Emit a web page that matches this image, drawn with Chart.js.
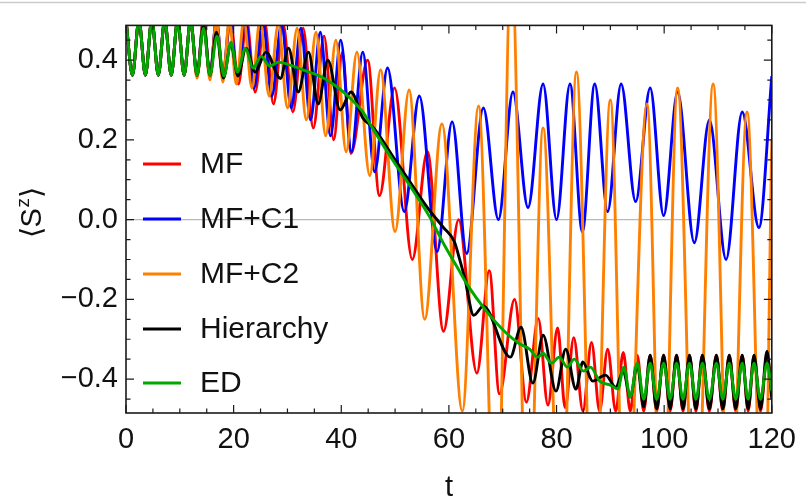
<!DOCTYPE html>
<html>
<head>
<meta charset="utf-8">
<script src="https://cdn.jsdelivr.net/npm/chart.js@4.4.1/dist/chart.umd.min.js"></script>
<style>
  html, body { margin: 0; padding: 0; background: #fff; }
  canvas { display: block; }
</style>
</head>
<body>
<canvas id="szChart" width="806" height="500"></canvas>
<script>
// values: [t, <S^z>] at the turning points of each curve
var earlyPoints = [[0,0.5],[1.2,0.362],[2.4,0.5],[3.6,0.362],[4.8,0.5],[6.0,0.362],[7.2,0.5],[8.4,0.362],[9.6,0.5],[10.8,0.362],[12.0,0.5]];

var mfPoints = [[13.2,0.36],[14.4,0.5],[15.6,0.36],[16.8,0.5],[18.0,0.36],[19.4,0.5],[20.9,0.34],[22.4,0.5],[24.0,0.32],[25.7,0.5],[27.4,0.29],[29.2,0.49],[31.0,0.27],[32.9,0.48],[34.8,0.23],[36.8,0.46],[38.6,0.2],[40.2,0.42],[41.8,0.166],[44.9,0.40],[47.1,0.06],[49.9,0.33],[53.2,-0.1],[56.0,0.17],[59.0,-0.28],[61.8,0.0],[65.2,-0.385],[67.5,-0.128],[69.4,-0.437],[72.2,-0.2],[74.4,-0.458],[76.6,-0.248],[78.4,-0.465],[80.2,-0.272],[81.6,-0.472],[83.2,-0.296],[84.9,-0.48],[86.5,-0.308],[88.0,-0.48],[89.5,-0.325],[91.0,-0.48],[92.4,-0.333],[93.7,-0.48],[95.0,-0.34],[96.2,-0.48],[97.4,-0.34],[98.6,-0.48],[99.9,-0.34],[101.1,-0.48],[102.3,-0.34],[103.5,-0.48],[104.7,-0.34],[105.9,-0.48],[107.1,-0.34],[108.4,-0.48],[109.7,-0.34],[110.9,-0.48],[112.1,-0.34],[113.3,-0.48],[114.5,-0.34],[115.6,-0.48],[116.7,-0.34],[117.9,-0.48],[119.1,-0.34],[120,-0.44]];

var mfC1Points = [[13.2,0.36],[14.4,0.5],[15.6,0.36],[16.8,0.5],[18.0,0.36],[19.3,0.5],[20.7,0.35],[22.2,0.5],[23.8,0.33],[25.4,0.5],[27.1,0.31],[28.9,0.49],[30.7,0.28],[32.5,0.48],[34.3,0.25],[36.1,0.47],[38.0,0.21],[39.9,0.45],[41.9,0.17],[44.0,0.42],[46.2,0.12],[48.6,0.38],[51.7,0.02],[54.5,0.31],[57.8,-0.08],[60.6,0.245],[63.3,-0.085],[66.4,0.28],[69.2,0.0],[71.9,0.32],[74.7,0.03],[77.5,0.34],[80.0,0.0],[82.5,0.34],[84.8,-0.03],[87.1,0.34],[89.5,0.02],[92.0,0.34],[94.7,0.045],[97.4,0.33],[99.9,0.01],[102.5,0.32],[105.6,-0.058],[108.4,0.25],[111.5,-0.1],[114.5,0.27],[117.6,-0.02],[120,0.36]];

var mfC2Points = [[13.2,0.355],[14.4,0.5],[15.6,0.35],[16.8,0.5],[18.0,0.345],[19.2,0.5],[20.5,0.34],[21.9,0.5],[23.4,0.33],[24.9,0.5],[26.6,0.31],[28.3,0.49],[30.0,0.28],[31.8,0.48],[33.5,0.25],[35.3,0.47],[37.1,0.21],[39.0,0.45],[40.9,0.17],[42.9,0.42],[45.3,0.11],[47.3,0.375],[50.0,-0.03],[52.6,0.325],[55.5,-0.25],[58.7,0.24],[62.5,-0.48],[65.5,0.285],[68.8,-0.9],[71.6,0.65],[74.7,-0.9],[77.5,0.23],[80.8,-0.9],[83.7,0.37],[86.9,-0.9],[90.0,0.30],[92.8,-0.9],[96.8,0.29],[99.6,-0.9],[102.5,0.33],[105.8,-0.9],[109.1,0.34],[112.2,-0.9],[115.4,0.27],[118.5,-0.9],[120,0.2]];

var hierPoints = [[13.2,0.362],[14.4,0.49],[15.6,0.362],[16.8,0.47],[18.1,0.355],[19.5,0.44],[20.8,0.36],[22.3,0.43],[24.0,0.37],[26.0,0.42],[28.7,0.354],[30.2,0.43],[32.0,0.32],[33.9,0.42],[35.7,0.29],[37.5,0.40],[39.8,0.275],[41.8,0.32],[44.0,0.255],[46.0,0.23],[50.0,0.15],[53.0,0.09],[56.0,0.03],[59.0,-0.02],[61.0,-0.055],[62.0,-0.1],[63.0,-0.15],[64.6,-0.24],[66.4,-0.217],[71.4,-0.345],[73.4,-0.27],[75.6,-0.41],[77.5,-0.29],[79.9,-0.43],[81.7,-0.325],[83.6,-0.425],[84.9,-0.357],[86.7,-0.405],[89.1,-0.39],[91.0,-0.42],[92.4,-0.38],[93.7,-0.445],[95.0,-0.365],[96.2,-0.47],[97.4,-0.34],[98.6,-0.475],[99.9,-0.34],[101.1,-0.475],[102.3,-0.34],[103.5,-0.475],[104.7,-0.34],[105.9,-0.475],[107.1,-0.34],[108.4,-0.475],[109.7,-0.34],[110.9,-0.475],[112.1,-0.34],[113.3,-0.475],[114.5,-0.34],[115.6,-0.475],[116.7,-0.34],[117.9,-0.475],[119.1,-0.33],[120,-0.45]];

var edPoints = [[13.2,0.362],[14.4,0.48],[15.6,0.362],[16.9,0.46],[18.2,0.36],[19.5,0.445],[20.7,0.37],[22.2,0.43],[23.6,0.38],[25.1,0.41],[26.7,0.385],[28.3,0.395],[30.0,0.39],[33.0,0.375],[36.0,0.36],[39.0,0.335],[42.0,0.3],[44.0,0.27],[46.0,0.225],[50.0,0.14],[53.0,0.08],[56.5,0.005],[59.0,-0.06],[62.0,-0.13],[63.5,-0.165],[67.0,-0.23],[70.7,-0.285],[73.0,-0.31],[75.0,-0.325],[76.5,-0.345],[77.5,-0.335],[79.0,-0.36],[80.5,-0.345],[82.0,-0.37],[83.3,-0.35],[85.0,-0.38],[86.3,-0.37],[88.0,-0.405],[90.0,-0.415],[91.4,-0.425],[92.5,-0.37],[93.7,-0.445],[95.0,-0.36],[96.2,-0.45],[97.4,-0.36],[98.6,-0.45],[99.9,-0.36],[101.1,-0.45],[102.3,-0.36],[103.5,-0.45],[104.7,-0.36],[105.9,-0.45],[107.1,-0.36],[108.4,-0.45],[109.7,-0.36],[110.9,-0.45],[112.1,-0.36],[113.3,-0.45],[114.5,-0.36],[115.6,-0.45],[116.7,-0.36],[117.9,-0.45],[119.1,-0.36],[120,-0.43]];

var seriesNames = ['MF', 'MF+C1', 'MF+C2', 'Hierarchy', 'ED'];
var seriesColors = ['#ff0000', '#0000ff', '#ff8000', '#000000', '#00a800'];
var xTickValues = [0, 20, 40, 60, 80, 100, 120];
var yTickValues = [-0.4, -0.2, 0.0, 0.2, 0.4];

var FONT = "'Liberation Sans', Arial, sans-serif";

function toXY(pts) {
  return earlyPoints.concat(pts).map(function (p) { return { x: p[0], y: p[1] }; });
}

var allPoints = [mfPoints, mfC1Points, mfC2Points, hierPoints, edPoints];
var datasets = allPoints.map(function (pts, i) {
  return {
    label: seriesNames[i],
    data: toXY(pts),
    borderColor: seriesColors[i],
    backgroundColor: seriesColors[i],
    borderWidth: 2.9,
    pointRadius: 0,
    cubicInterpolationMode: 'monotone',
    clip: 0,
    order: seriesNames.length - i
  };
});

var framePlugin = {
  id: 'frame',
  beforeDatasetsDraw: function (chart) {
    var ctx = chart.ctx, a = chart.chartArea;
    var y0 = chart.scales.y.getPixelForValue(0);
    ctx.save();
    ctx.strokeStyle = '#b4bcbc';
    ctx.lineWidth = 1.2;
    ctx.beginPath();
    ctx.moveTo(a.left, y0);
    ctx.lineTo(a.right, y0);
    ctx.stroke();
    ctx.restore();
  },
  afterDatasetsDraw: function (chart) {
    var ctx = chart.ctx, a = chart.chartArea;
    var xs = chart.scales.x, ys = chart.scales.y;
    ctx.save();
    // thin grey line along the top of the picture
    ctx.strokeStyle = '#cccccc';
    ctx.lineWidth = 1.5;
    ctx.beginPath();
    ctx.moveTo(0, 2.5);
    ctx.lineTo(chart.width, 2.5);
    ctx.stroke();

    ctx.strokeStyle = '#1a1a1a';
    ctx.lineWidth = 1.6;
    ctx.strokeRect(a.left, a.top, a.right - a.left, a.bottom - a.top);

    ctx.lineWidth = 1.2;
    ctx.beginPath();
    var v, px, len;
    for (v = 0; v <= 120; v += 5) {
      px = xs.getPixelForValue(v);
      len = (v % 20 === 0) ? 8 : 4.5;
      ctx.moveTo(px, a.bottom); ctx.lineTo(px, a.bottom - len);
      ctx.moveTo(px, a.top); ctx.lineTo(px, a.top + len);
    }
    for (var k = -9; k <= 9; k++) {
      v = k * 0.05;
      px = ys.getPixelForValue(v);
      if (px < a.top || px > a.bottom) continue;
      len = (k % 4 === 0) ? 8 : 4.5;
      ctx.moveTo(a.left, px); ctx.lineTo(a.left + len, px);
      ctx.moveTo(a.right, px); ctx.lineTo(a.right - len, px);
    }
    ctx.stroke();
    ctx.restore();
  },
  afterDraw: function (chart) {
    var ctx = chart.ctx, a = chart.chartArea;
    ctx.save();
    // legend inside the plot
    ctx.font = '30px ' + FONT;
    ctx.textBaseline = 'middle';
    ctx.textAlign = 'left';
    var legendY = [164, 219, 274, 329, 383];
    seriesNames.forEach(function (name, i) {
      ctx.strokeStyle = seriesColors[i];
      ctx.lineWidth = 3;
      ctx.beginPath();
      ctx.moveTo(143, legendY[i]);
      ctx.lineTo(181, legendY[i]);
      ctx.stroke();
      ctx.fillStyle = '#111';
      ctx.fillText(name, 200, legendY[i] + 1);
    });

    // x axis title
    ctx.font = '29px ' + FONT;
    ctx.textAlign = 'center';
    ctx.textBaseline = 'alphabetic';
    ctx.fillText('t', (a.left + a.right) / 2, 496);

    // y axis title  <S^z>
    ctx.translate(41, 213);
    ctx.rotate(-Math.PI / 2);
    var big = '29px ' + FONT, small = '19px ' + FONT;
    ctx.font = big;
    var w1 = ctx.measureText('\u27E8S').width;
    var w3 = ctx.measureText('\u27E9').width;
    ctx.font = small;
    var w2 = ctx.measureText('z').width;
    var x0 = -(w1 + w2 + w3) / 2;
    ctx.textAlign = 'left';
    ctx.font = big;
    ctx.fillText('\u27E8S', x0, 0);
    ctx.font = small;
    ctx.fillText('z', x0 + w1 + 0.5, -12);
    ctx.font = big;
    ctx.fillText('\u27E9', x0 + w1 + w2 + 1, 0);
    ctx.restore();
  }
};

var ctx = document.getElementById('szChart').getContext('2d');
var szChart = new Chart(ctx, {
  type: 'line',
  data: { datasets: datasets },
  options: {
    responsive: false,
    animation: false,
    devicePixelRatio: 1,
    layout: { padding: { left: 0, right: 28, top: 10, bottom: 0 } },
    plugins: { legend: { display: false }, tooltip: { enabled: false } },
    scales: {
      x: {
        type: 'linear',
        min: 0,
        max: 120,
        afterBuildTicks: function (s) { s.ticks = xTickValues.map(function (v) { return { value: v }; }); },
        afterFit: function (s) { s.height = 87; },
        ticks: { color: '#111', font: { family: FONT, size: 29 }, padding: 10, maxRotation: 0, autoSkip: false },
        grid: { display: false, drawTicks: false },
        border: { display: false }
      },
      y: {
        type: 'linear',
        min: -0.485,
        max: 0.487,
        afterBuildTicks: function (s) { s.ticks = yTickValues.map(function (v) { return { value: v }; }); },
        afterFit: function (s) { s.width = 126; },
        ticks: {
          color: '#111',
          font: { family: FONT, size: 29 },
          padding: 8,
          autoSkip: false,
          callback: function (v) { return (v < 0 ? '\u2212' : '') + Math.abs(v).toFixed(1); }
        },
        grid: { display: false, drawTicks: false },
        border: { display: false }
      }
    }
  },
  plugins: [framePlugin]
});
</script>
</body>
</html>
